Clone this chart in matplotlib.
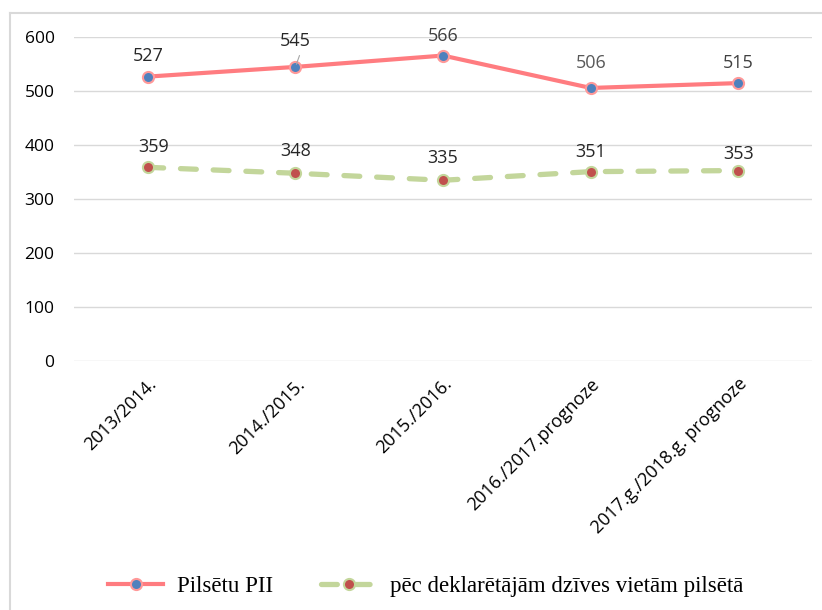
import matplotlib.pyplot as plt
from matplotlib.lines import Line2D

years = ["2013/2014.", "2014./2015.", "2015./2016.", "2016./2017.prognoze", "2017.g./2018.g. prognoze"]
pii = [527, 545, 566, 506, 515]
declared = [359, 348, 335, 351, 353]

pii_name = "Pilsētu PII"
declared_name = "pēc deklarētājām dzīves vietām pilsētā"

fig = plt.figure(figsize=(8.22, 6.10), dpi=100)
ax = fig.add_axes([0.090, 0.408, 0.898, 0.531])

x = list(range(len(years)))

ax.plot(x, pii, color="#FF7C80", lw=3, marker="o", ms=8,
        mfc="#4F81BD", mec="#FF9999", mew=1.5, label=pii_name, zorder=3)
ln, = ax.plot(x, declared, color="#C3D69B", lw=3.8, marker="o", ms=8,
              mfc="#C0504D", mec="#C3D69B", mew=1.5, label=declared_name,
              zorder=3, dash_capstyle="round")
ln.set_dashes((3.0, 3.2))

# label offsets in pixels
pii_off = [(0, 21), (0, 26), (0, 20), (0, 25), (0, 20)]
pii_col = ["#262626", "#262626", "#404040", "#595959", "#404040"]
for i, v in enumerate(pii):
    ax.annotate(str(v), (x[i], v), xytext=pii_off[i], textcoords="offset pixels",
                ha="center", va="center", fontsize=13, color=pii_col[i],
                family="Open Sans")
ax.annotate("", (x[1], pii[1]), xytext=(5, 14), textcoords="offset pixels",
            arrowprops=dict(arrowstyle="-", color="#A6A6A6", lw=0.8))

dec_off = [(6, 20), (0, 22), (0, 22), (0, 20), (0, 17)]
for i, v in enumerate(declared):
    ax.annotate(str(v), (x[i], v), xytext=dec_off[i], textcoords="offset pixels",
                ha="center", va="center", fontsize=13, color="#262626",
                family="Open Sans")

ax.set_xlim(-0.5, len(years) - 0.5)
ax.set_ylim(0, 600)
ax.set_yticks(range(0, 601, 100))
ax.set_xticks(x)
ax.set_xticklabels(years, rotation=45, ha="right", rotation_mode="anchor",
                   fontsize=13, family="Open Sans", color="#000000")
for lab in ax.get_yticklabels():
    lab.set_family("Open Sans")
    lab.set_fontsize(12.5)
ax.tick_params(length=0)
ax.tick_params(axis="y", pad=14)
ax.tick_params(axis="x", pad=10)
ax.grid(axis="y", color="#D9D9D9", lw=1)
ax.set_axisbelow(True)
for s in ax.spines.values():
    s.set_visible(False)

fig.legend(loc="center", bbox_to_anchor=(0.518, 0.038), ncol=2, frameon=False,
           prop={"family": "Liberation Serif", "size": 16.5}, handlelength=2.4,
           columnspacing=2.1, handletextpad=0.6)

# chart area border (cut off on the right and bottom)
fig.add_artist(Line2D([10 / 822, 1.0], [1 - 13 / 610, 1 - 13 / 610],
                      color="#D9D9D9", lw=1.5, transform=fig.transFigure))
fig.add_artist(Line2D([10 / 822, 10 / 822], [0.0, 1 - 13 / 610],
                      color="#D9D9D9", lw=1.5, transform=fig.transFigure))

fig.savefig("out.png", dpi=100)
